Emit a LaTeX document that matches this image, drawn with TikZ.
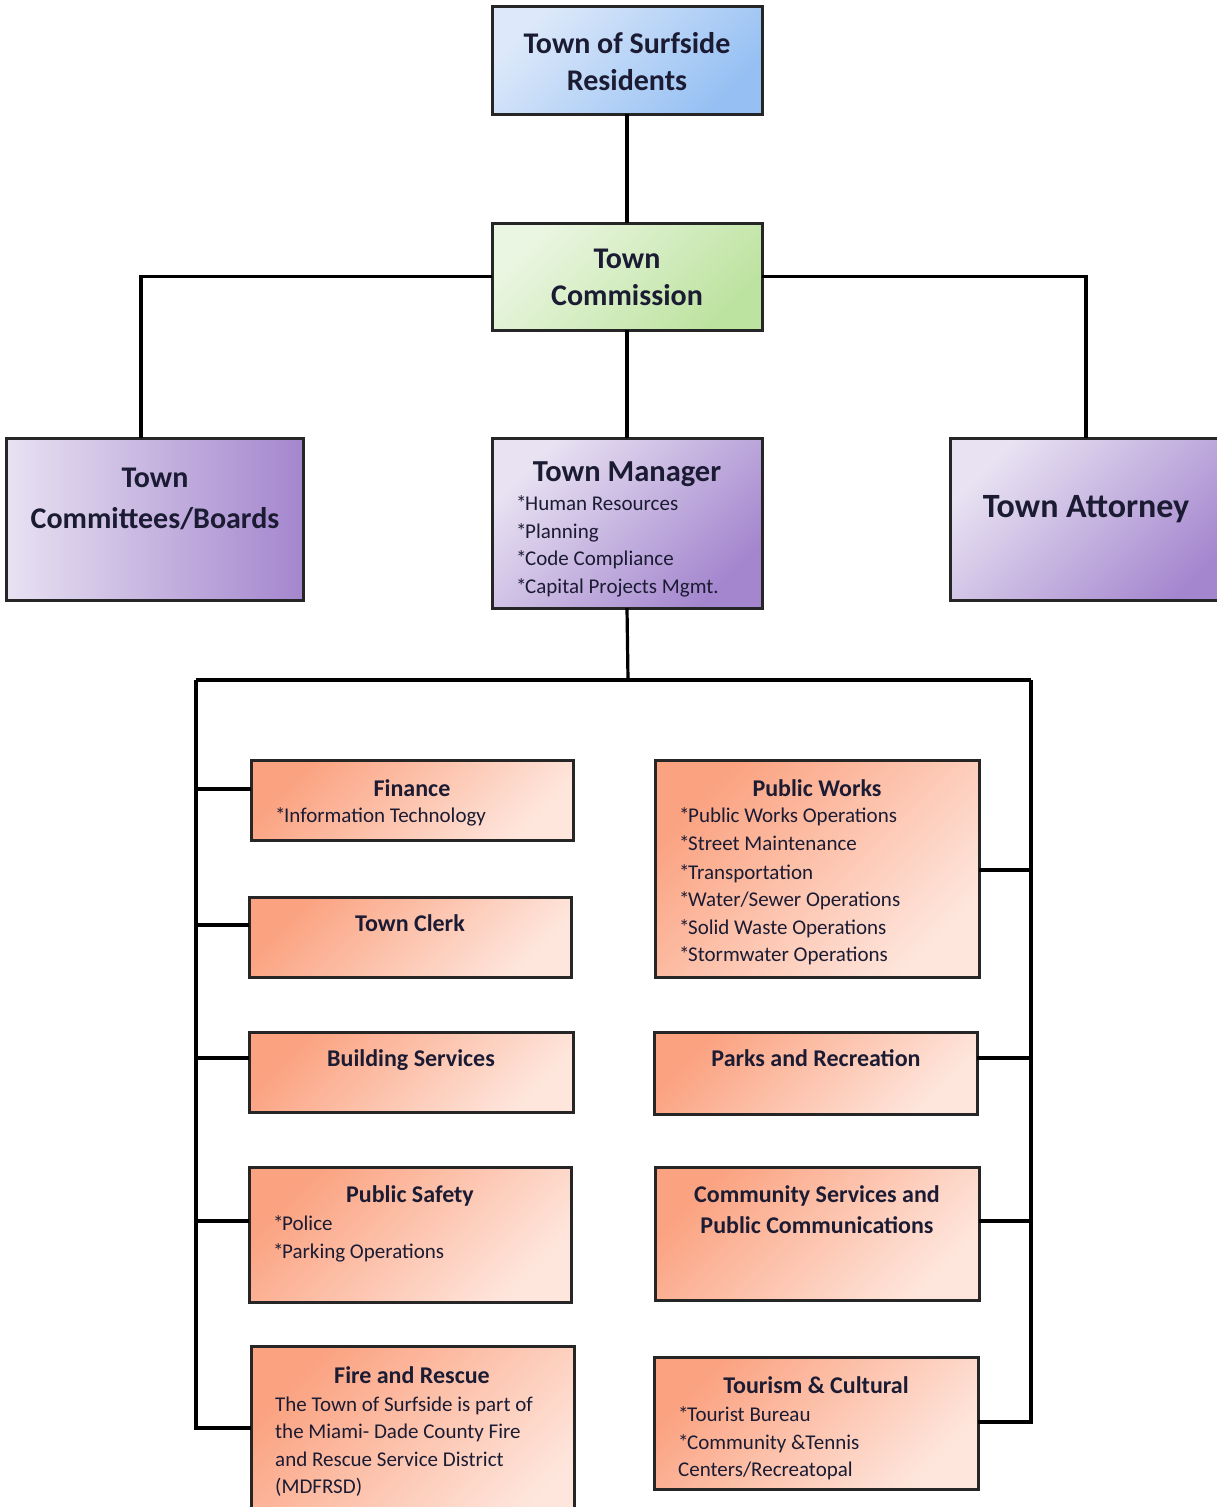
\documentclass[tikz,border=0pt]{standalone}
\usepackage{fontspec}
\setmainfont{Carlito}
\usetikzlibrary{calc}
\definecolor{txt}{HTML}{1B1B33}
\definecolor{blueA}{HTML}{DDE9FA}
\definecolor{blueB}{HTML}{96C0F3}
\definecolor{greenA}{HTML}{EBF6E2}
\definecolor{greenB}{HTML}{BDE3A0}
\definecolor{purA}{HTML}{E8E2F2}
\definecolor{purB}{HTML}{A486CE}
\definecolor{orA}{HTML}{FBA280}
\definecolor{orB}{HTML}{FEE6DD}
\newcommand\mybul{*\kern-1.5pt}
\begin{document}
\begin{tikzpicture}[x=1pt,y=-1pt,
  box/.style={draw=black!85, line width=3pt, anchor=north west, inner sep=0pt, outer sep=0pt},
  bluebox/.style={box, top color=blueA, bottom color=blueB, shading angle=45},
  greenbox/.style={box, top color=greenA, bottom color=greenB, shading angle=45},
  purbox/.style={box, top color=purA, bottom color=purB, shading angle=45},
  purhbox/.style={box, left color=purA, right color=purB},
  orbox/.style={box, top color=orA, bottom color=orB, shading angle=45},
  conn/.style={draw=black, line width=3.2pt},
  bigt/.style={font=\bfseries\fontsize{30}{34}\selectfont, text=txt, inner sep=0pt, anchor=base},
  midt/.style={font=\bfseries\fontsize{24}{28}\selectfont, text=txt, inner sep=0pt, anchor=base},
  item/.style={font=\fontsize{21}{24}\selectfont, text=txt, inner sep=0pt, anchor=base west}
]
\useasboundingbox (0,0) rectangle (1217,1507);

% ---------- boxes ----------
\node[bluebox, minimum width=270pt, minimum height=108pt] (res) at (492,6) {};
\node[greenbox, minimum width=270pt, minimum height=107pt] (com) at (492,223) {};
\node[purhbox, minimum width=297pt, minimum height=162pt] (cmt) at (6,438) {};
\node[purbox, minimum width=270pt, minimum height=170pt] (mgr) at (492,438) {};
\node[purbox, minimum width=290pt, minimum height=162pt] (att) at (950,438) {};

\node[orbox, minimum width=322pt, minimum height=80pt] (fin) at (251,760) {};
\node[orbox, minimum width=322pt, minimum height=80pt] (clk) at (249,897) {};
\node[orbox, minimum width=324pt, minimum height=80pt] (bld) at (249,1032) {};
\node[orbox, minimum width=322pt, minimum height=135pt] (saf) at (249,1167) {};
\node[orbox, minimum width=323pt, minimum height=190pt] (fire) at (251,1346) {};

\node[orbox, minimum width=324pt, minimum height=217pt] (pw) at (655,760) {};
\node[orbox, minimum width=323pt, minimum height=82pt] (prk) at (654,1032) {};
\node[orbox, minimum width=324pt, minimum height=133pt] (cms) at (655,1167) {};
\node[orbox, minimum width=324pt, minimum height=132pt] (tour) at (654,1357) {};

% ---------- texts ----------
\node[bigt] (resT1) at (627,53) {Town of Surfside};
\node[bigt] (resT2) at (627,90) {Residents};
\node[bigt] (comT1) at (627,268) {Town};
\node[bigt] (comT2) at (627,305) {Commission};
\node[bigt] (cmtT1) at (155,487) {Town};
\node[bigt] (cmtT2) at (155,528) {Committees/Boards};
\node[bigt, font=\bfseries\fontsize{30.5}{34}\selectfont] (mgrT) at (627,481) {Town Manager};
\node[item] (mgr1) at (516,510) {\mybul Human Resources};
\node[item] (mgr2) at (516,538) {\mybul Planning};
\node[item] (mgr3) at (516,565) {\mybul Code Compliance};
\node[item] (mgr4) at (516,593) {\mybul Capital Projects Mgmt.};
\node[bigt, font=\bfseries\fontsize{34}{38}\selectfont] (attT) at (1086,517) {Town Attorney};

\node[midt] (finT) at (412,796) {Finance};
\node[item] (fin1) at (275,822) {\mybul Information Technology};
\node[midt] (clkT) at (410,931) {Town Clerk};
\node[midt] (bldT) at (411,1066) {Building Services};
\node[midt] (safT) at (410,1202) {Public Safety};
\node[item] (saf1) at (273,1230) {\mybul Police};
\node[item] (saf2) at (273,1258) {\mybul Parking Operations};
\node[midt] (fireT) at (412,1383) {Fire and Rescue};
\node[item] (fire1) at (275,1411) {The Town of Surfside is part of};
\node[item] (fire2) at (275,1438) {the Miami- Dade County Fire};
\node[item] (fire3) at (275,1466) {and Rescue Service District};
\node[item] (fire4) at (275,1493) {(MDFRSD)};

\node[midt] (pwT) at (817,796) {Public Works};
\node[item] (pw1) at (679,822) {\mybul Public Works Operations};
\node[item] (pw2) at (679,850) {\mybul Street Maintenance};
\node[item] (pw3) at (679,879) {\mybul Transportation};
\node[item] (pw4) at (679,906) {\mybul Water/Sewer Operations};
\node[item] (pw5) at (679,934) {\mybul Solid Waste Operations};
\node[item] (pw6) at (679,961) {\mybul Stormwater Operations};
\node[midt] (prkT) at (816,1066) {Parks and Recreation};
\node[midt] (cmsT1) at (817,1202) {Community Services and};
\node[midt] (cmsT2) at (817,1233) {Public Communications};
\node[midt] (tourT) at (816,1393) {Tourism \& Cultural};
\node[item] (tour1) at (678,1421) {\mybul Tourist Bureau};
\node[item] (tour2) at (678,1449) {\mybul Community \&Tennis};
\node[item] (tour3) at (678,1476) {Centers/Recreatopal};

% ---------- connectors ----------
\coordinate (cmtTop) at (141,438);
\coordinate (attTop) at (1086,438);
\coordinate (bM) at (628,680);
\coordinate (bL) at (196,680);
\coordinate (bR) at (1031,680);
\coordinate (bLb) at (196,1428);
\coordinate (bRb) at (1031,1422);

\draw[conn] (res.south) -- (com.north);
\draw[conn] (com.south) -- (mgr.north);
\draw[conn] (com.west) -| (cmtTop);
\draw[conn] (com.east) -| (attTop);
\draw[conn] (mgr.south) -- (bM);
\draw[conn] (bL) -- (bR);
\draw[conn] (bL) -- (bLb) -- (fire.west |- bLb);
\draw[conn] (bR) -- (bRb) -- (tour.east |- bRb);

\draw[conn] (bL |- 0,789) -- (fin.west |- 0,789);
\draw[conn] (bL |- 0,925) -- (clk.west |- 0,925);
\draw[conn] (bL |- 0,1058) -- (bld.west |- 0,1058);
\draw[conn] (bL |- 0,1221) -- (saf.west |- 0,1221);

\draw[conn] (bR |- 0,870) -- (pw.east |- 0,870);
\draw[conn] (bR |- 0,1058) -- (prk.east |- 0,1058);
\draw[conn] (bR |- 0,1221) -- (cms.east |- 0,1221);
\end{tikzpicture}
\end{document}
